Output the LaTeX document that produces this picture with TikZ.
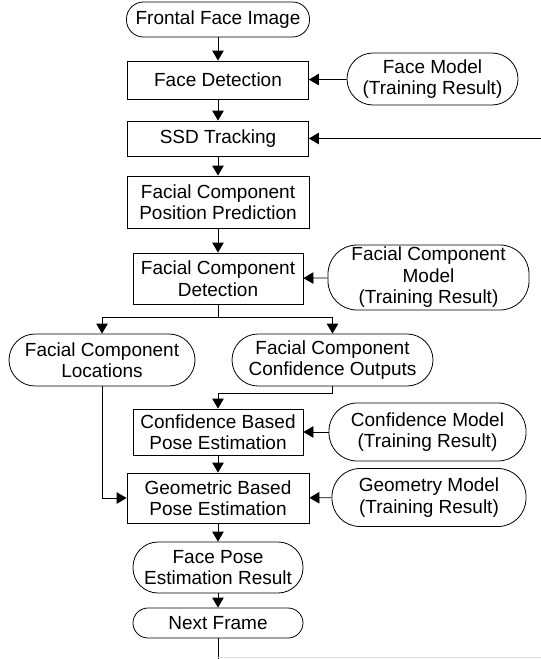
\documentclass[tikz,border=0pt]{standalone}
\usepackage{fontspec}
\setmainfont{Liberation Sans}
\usetikzlibrary{arrows.meta}
\tikzset{
  base/.style={draw, line width=0.8pt, align=center, inner sep=0pt,
    font=\fontsize{19}{21.5}\selectfont},
  procbox/.style={base},
  capsule/.style={base, rounded corners=#1},
  link/.style={line width=0.8pt, -{Triangle[length=10pt,width=11.5pt]}},
  plain/.style={line width=0.8pt},
}
\begin{document}
\begin{tikzpicture}[x=1pt,y=-1pt]
\useasboundingbox (0,0) rectangle (541,659);
\node[capsule=17pt, minimum width=183pt, minimum height=35pt] (frontal) at (218,19.5) {Frontal Face Image};
\node[procbox, minimum width=181pt, minimum height=38pt] (facedet) at (218,80) {Face Detection};
\node[capsule=26pt, minimum width=171pt, minimum height=52pt] (facemodel) at (432.5,79) {Face Model\\(Training Result)};
\node[procbox, minimum width=181pt, minimum height=35pt] (ssd) at (218,138.5) {SSD Tracking};
\node[procbox, minimum width=182pt, minimum height=52pt] (pos) at (218,202) {Facial Component\\Position Prediction};
\node[procbox, minimum width=170pt, minimum height=51pt] (det) at (218,278.5) {Facial Component\\Detection};
\node[capsule=29pt, minimum width=201pt, minimum height=65pt] (fcmodel) at (428.5,277.5) {Facial Component\\Model\\(Training Result)};
\node[capsule=26pt, minimum width=186pt, minimum height=52pt] (loc) at (102,360) {Facial Component\\Locations};
\node[capsule=26pt, minimum width=201pt, minimum height=52pt] (conf) at (332.5,360) {Facial Component\\Confidence Outputs};
\node[procbox, minimum width=170pt, minimum height=46pt] (confbased) at (218,432) {Confidence Based\\Pose Estimation};
\node[capsule=28pt, minimum width=197pt, minimum height=58pt] (confmodel) at (427.5,432) {Confidence Model\\(Training Result)};
\node[procbox, minimum width=182pt, minimum height=50pt] (geom) at (218,498) {Geometric Based\\Pose Estimation};
\node[capsule=28pt, minimum width=194pt, minimum height=58pt] (geommodel) at (429,497.5) {Geometry Model\\(Training Result)};
\node[capsule=25pt, minimum width=170pt, minimum height=51pt] (result) at (218,567.5) {Face Pose\\Estimation Result};
\node[capsule=15pt, minimum width=170pt, minimum height=30pt] (next) at (218,623) {Next Frame};
\coordinate (loopin) at (541,138.5);
\coordinate (loopout) at (218,659);
\coordinate (loopcorner) at (218,657.5);
\coordinate (loopend) at (541,657.5);

\draw[link] (frontal) -- (facedet);
\draw[link] (facemodel) -- (facedet);
\draw[link] (facedet) -- (ssd);
\draw[link] (loopin) -- (ssd.east);
\draw[link] (ssd) -- (pos);
\draw[link] (pos) -- (det);
\draw[link] (fcmodel) -- (det);
\draw[link] (det.south) -- ++(0,12.5) -| (loc.north);
\draw[link] (det.south) -- ++(0,12.5) -| (conf.north);
\draw[link] (conf.south) -- ++(0,7) -| (confbased.north);
\draw[link] (confmodel) -- (confbased);
\draw[link] (confbased) -- (geom);
\draw[link] (loc.south) |- (geom.west);
\draw[link] (geommodel) -- (geom);
\draw[link] (geom) -- (result);
\draw[link] (result) -- (next);
\draw[plain] (next.south) -- (loopout);
\draw[plain, black!12] (loopcorner) -- (loopend);
\end{tikzpicture}
\end{document}
